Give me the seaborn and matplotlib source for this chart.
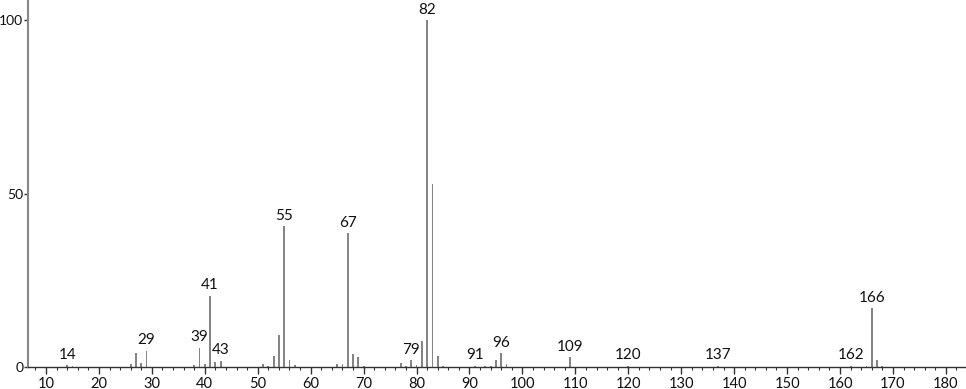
import matplotlib
matplotlib.use("Agg")
import matplotlib.pyplot as plt
import seaborn as sns
import pandas as pd
from matplotlib.ticker import MultipleLocator

mz = [14, 15, 26, 27, 28, 29, 38, 39, 40, 41, 42, 43, 51, 52, 53, 54, 55, 56, 57,
      65, 66, 67, 68, 69, 70, 77, 78, 79, 80, 81, 82, 83, 84, 85, 91, 93, 94, 95,
      96, 97, 109, 120, 137, 162, 165, 166, 167, 168]
intensity = [0.5, 0.4, 0.8, 3.9, 1.2, 4.7, 0.5, 5.6, 0.9, 20.5, 1.5, 1.8, 0.8, 0.4,
             3.2, 9.2, 40.6, 2.0, 0.5, 0.9, 0.9, 38.6, 3.7, 2.8, 0.4, 1.2, 0.4, 2.0,
             0.7, 7.4, 100.0, 52.7, 3.3, 0.4, 0.4, 0.4, 0.4, 2.0, 3.9, 0.9, 2.8, 0.3,
             0.3, 0.3, 0.4, 16.9, 2.0, 0.3]
labeled_mz = [14, 29, 39, 41, 43, 55, 67, 79, 82, 91, 96, 109, 120, 137, 162, 166]
x_ticks = [10, 20, 30, 40, 50, 60, 70, 80, 90, 100, 110, 120, 130, 140, 150, 160, 170, 180]
y_ticks = [0, 50, 100]

df = pd.DataFrame({"mz": mz, "intensity": intensity})

sns.set_theme(style="white")
plt.rcParams["font.family"] = ["Lato", "DejaVu Sans"]

fig = plt.figure(figsize=(9.66, 3.89), dpi=100)
ax = fig.add_axes([28 / 966, 22 / 389, 1 - 28 / 966, 1 - 22 / 389])

sns.barplot(data=df, x="mz", y="intensity", native_scale=True, width=0.34,
            color="#858585", saturation=1, edgecolor="none", ax=ax)

lookup = dict(zip(mz, intensity))
for m in labeled_mz:
    h = lookup[m]
    ax.text(m, h + 1.0, str(m), ha="center", va="bottom", fontsize=11,
            color="#111111")

ax.set_xlim(6.6, 183.8)
ax.set_ylim(0, 105.8)
ax.set_xticks(x_ticks)
ax.set_xticklabels([str(t) for t in x_ticks])
ax.xaxis.set_minor_locator(MultipleLocator(2))
ax.set_yticks(y_ticks)
ax.set_yticklabels([str(t) for t in y_ticks])
ax.set_xlabel("")
ax.set_ylabel("")

for s in ["top", "right"]:
    ax.spines[s].set_visible(False)
ax.spines["left"].set_color("#888888")
ax.spines["left"].set_linewidth(1.5)
ax.spines["bottom"].set_color("#333333")
ax.spines["bottom"].set_linewidth(1.0)

ax.tick_params(axis="x", which="major", direction="out", length=5, width=1,
               color="#333333", labelsize=10.5, labelcolor="#111111", pad=2,
               bottom=True)
ax.tick_params(axis="x", which="minor", direction="out", length=2.5, width=0.8,
               color="#333333", bottom=True)
ax.tick_params(axis="y", which="major", direction="out", length=3, width=1,
               color="#333333", labelsize=10, labelcolor="#111111", pad=0.5,
               left=True)

fig.savefig("out.png", dpi=100)
